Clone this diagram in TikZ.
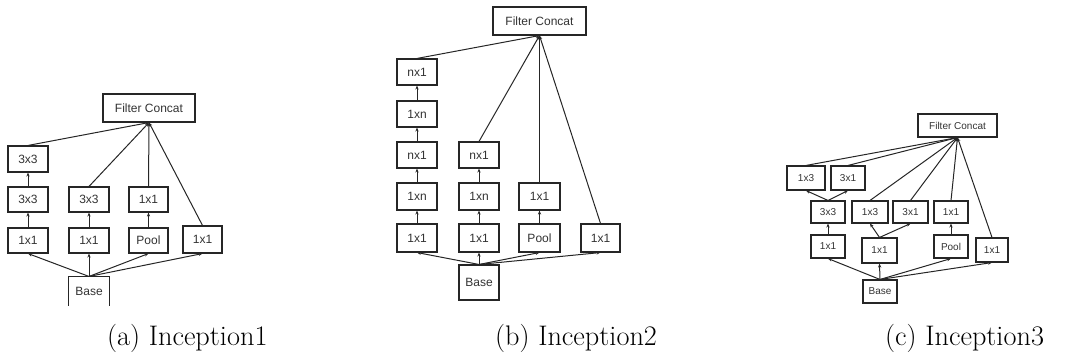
\documentclass[tikz,border=0pt]{standalone}
\usepackage{fontspec}
\usetikzlibrary{arrows.meta}
\newfontfamily\boxfont{Liberation Sans}
\begin{document}
\begin{tikzpicture}[x=1pt,y=-1pt,
  box/.style={draw=black!85, line width=1.1pt, fill=white, inner sep=0pt,
    font=\boxfont\fontsize{12}{14}\selectfont, text=black!80},
  smallbox/.style={box, font=\boxfont\fontsize{10}{12}\selectfont},
  openbox/.style={box, draw=none},
  edge/.style={draw=black!85, line width=1.1pt},
  arr/.style={draw=black!85, line width=1pt, -{Stealth[length=4pt,width=3.2pt]}},
  caption/.style={anchor=base west, inner sep=0pt, font=\fontsize{28.3}{34}\selectfont}]
\useasboundingbox (0,0) rectangle (1065,356);

% ---------------- (a) Inception1 ----------------
\node[box, minimum width=92pt, minimum height=28pt] (fca) at (149,108) {Filter Concat};
\node[box, minimum width=40pt, minimum height=26pt] (a1t) at (28,159) {3x3};
\node[box, minimum width=40pt, minimum height=25pt] (a1m) at (28,199.5) {3x3};
\node[box, minimum width=40pt, minimum height=25pt] (a1b) at (28,240.5) {1x1};
\node[box, minimum width=40pt, minimum height=25pt] (a2m) at (89,199.5) {3x3};
\node[box, minimum width=40pt, minimum height=25pt] (a2b) at (89,240.5) {1x1};
\node[box, minimum width=39pt, minimum height=25pt] (a3m) at (148.5,199.5) {1x1};
\node[box, minimum width=39pt, minimum height=25pt] (a3b) at (148.5,240.5) {Pool};
\node[box, minimum width=39pt, minimum height=27pt] (a4b) at (202.5,239.5) {1x1};
% base box, cut off at its lower edge
\node[openbox, minimum width=40pt, minimum height=28pt] (basea) at (89,291) {Base};
\draw[edge] (basea.south west) -- (basea.north west) -- (basea.north east) -- (basea.south east);

\draw[arr] (basea.north) -- (a1b.south);
\draw[arr] (basea.north) -- (a2b.south);
\draw[arr] (basea.north) -- (a3b.south);
\draw[arr] (basea.north) -- (a4b.south);
\draw[arr] (a1b) -- (a1m);
\draw[arr] (a1m) -- (a1t);
\draw[arr] (a2b) -- (a2m);
\draw[arr] (a3b) -- (a3m);
\draw[arr] (a1t.north) -- (fca.south);
\draw[arr] (a2m.north) -- (fca.south);
\draw[arr] (a3m.north) -- (fca.south);
\draw[arr] (a4b.north) -- (fca.south);

\node[caption] (capa) at (107,345) {(a) Inception1};

% ---------------- (b) Inception2 ----------------
\node[box, minimum width=93pt, minimum height=28pt] (fcb) at (539.5,21) {Filter Concat};
\node[box, minimum width=40pt, minimum height=26pt] (b1e) at (417,72) {nx1};
\node[box, minimum width=40pt, minimum height=26pt] (b1d) at (417,114) {1xn};
\node[box, minimum width=40pt, minimum height=26pt] (b1c) at (417,155) {nx1};
\node[box, minimum width=40pt, minimum height=27pt] (b1b) at (417,196.5) {1xn};
\node[box, minimum width=40pt, minimum height=28pt] (b1a) at (417,238) {1x1};
\node[box, minimum width=40pt, minimum height=26pt] (b2c) at (479,155) {nx1};
\node[box, minimum width=40pt, minimum height=27pt] (b2b) at (479,196.5) {1xn};
\node[box, minimum width=40pt, minimum height=28pt] (b2a) at (479,238) {1x1};
\node[box, minimum width=41pt, minimum height=27pt] (b3b) at (539.5,196.5) {1x1};
\node[box, minimum width=41pt, minimum height=28pt] (b3a) at (539.5,238) {Pool};
\node[box, minimum width=39pt, minimum height=28pt] (b4a) at (600.5,238) {1x1};
\node[box, minimum width=40pt, minimum height=35pt] (baseb) at (479,282.5) {Base};

\draw[arr] (baseb.north) -- (b1a.south);
\draw[arr] (baseb.north) -- (b2a.south);
\draw[arr] (baseb.north) -- (b3a.south);
\draw[arr] (baseb.north) -- (b4a.south);
\draw[arr] (b1a) -- (b1b);
\draw[arr] (b1b) -- (b1c);
\draw[arr] (b1c) -- (b1d);
\draw[arr] (b1d) -- (b1e);
\draw[arr] (b2a) -- (b2b);
\draw[arr] (b2b) -- (b2c);
\draw[arr] (b3a) -- (b3b);
\draw[arr] (b1e.north) -- (fcb.south);
\draw[arr] (b2c.north) -- (fcb.south);
\draw[arr] (b3b.north) -- (fcb.south);
\draw[arr] (b4a.north) -- (fcb.south);

\node[caption] (capb) at (495,345) {(b) Inception2};

% ---------------- (c) Inception3 ----------------
\node[smallbox, minimum width=79pt, minimum height=23pt] (fcc) at (957.5,125.5) {Filter Concat};
\node[smallbox, minimum width=38pt, minimum height=24pt] (cta) at (806,178) {1x3};
\node[smallbox, minimum width=34pt, minimum height=24pt] (ctb) at (848,178) {3x1};
\node[smallbox, minimum width=34pt, minimum height=22pt] (cma) at (828,212) {3x3};
\node[smallbox, minimum width=36pt, minimum height=22pt] (cmb) at (870,212) {1x3};
\node[smallbox, minimum width=35pt, minimum height=22pt] (cmc) at (910.5,212) {3x1};
\node[smallbox, minimum width=34pt, minimum height=22pt] (cmd) at (951,212) {1x1};
\node[smallbox, minimum width=34pt, minimum height=23pt] (cba) at (828,246.5) {1x1};
\node[smallbox, minimum width=35pt, minimum height=25pt] (cbb) at (879.5,250.5) {1x1};
\node[smallbox, minimum width=34pt, minimum height=23pt] (cbc) at (951,246.5) {Pool};
\node[smallbox, minimum width=32pt, minimum height=24pt] (cbd) at (992,250) {1x1};
\node[smallbox, minimum width=34pt, minimum height=23pt] (basec) at (880,291.5) {Base};

\draw[arr] (basec.north) -- (cba.south);
\draw[arr] (basec.north) -- (cbb.south);
\draw[arr] (basec.north) -- (cbc.south);
\draw[arr] (basec.north) -- (cbd.south);
\draw[arr] (cba) -- (cma);
\draw[arr] (cbc) -- (cmd);
\draw[arr] (cbb.north) -- (cmb.south);
\draw[arr] (cbb.north) -- (cmc.south);
\draw[arr] (cma.north) -- (cta.south);
\draw[arr] (cma.north) -- (ctb.south);
\draw[arr] (cta.north) -- (fcc.south);
\draw[arr] (ctb.north) -- (fcc.south);
\draw[arr] (cmb.north) -- (fcc.south);
\draw[arr] (cmc.north) -- (fcc.south);
\draw[arr] (cmd.north) -- (fcc.south);
\draw[arr] (cbd.north) -- (fcc.south);

\node[caption] (capc) at (885,345) {(c) Inception3};
\end{tikzpicture}
\end{document}
